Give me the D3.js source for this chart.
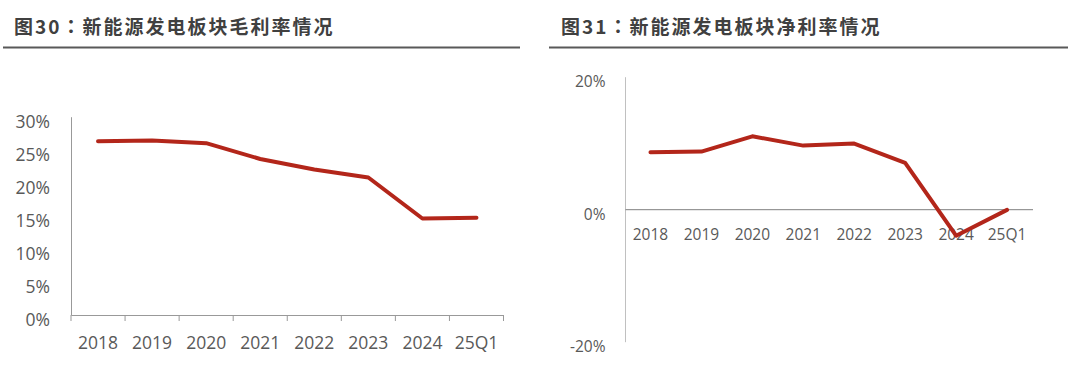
<!DOCTYPE html>
<html>
<head>
<meta charset="utf-8">
<script src="https://cdn.jsdelivr.net/npm/d3@7"></script>
<style>
  html, body { margin: 0; padding: 0; background: #fff; }
  svg { display: block; }
  .title { font-family: "Noto Sans CJK SC", sans-serif; font-weight: 700; font-size: 19px; letter-spacing: 2px; fill: #404040; }
  .tick text { font-family: "Open Sans", "Noto Sans", sans-serif; fill: #595959; }
  .left .tick text { font-size: 17.5px; }
  .right .tick text { font-size: 15.5px; }
</style>
</head>
<body>
<svg id="chart" width="1072" height="368"></svg>
<script>
// ── Data ────────────────────────────────────────────────────────────────
const categories   = ['2018', '2019', '2020', '2021', '2022', '2023', '2024', '25Q1'];
const grossMargin  = [26.3, 26.4, 26.0, 23.6, 22.0, 20.8, 14.6, 14.7];
const netMargin    = [8.6, 8.7, 11.0, 9.6, 9.9, 7.0, -4.0, -0.1];
const grossTicks   = [0, 5, 10, 15, 20, 25, 30];
const netTicks     = [-20, 0, 20];
const titleLeft    = ['图30', '：', '新能源发电板块毛利率情况'];
const titleRight   = ['图31', '：', '新能源发电板块净利率情况'];

const LINE_COLOR = '#B3261A';
const svg = d3.select('#chart');

// ── Titles ──────────────────────────────────────────────────────────────
function drawTitle(parts, x, x0, x1) {
  const t = svg.append('text').attr('class', 'title')
    .attr('x', x).attr('y', 34);
  t.selectAll('tspan').data(parts).join('tspan')
    // centred full-width colon, as in the source
    .style('font-family', (d, i) => i === 1 ? '"Noto Sans CJK TC", sans-serif' : null)
    .text(d => d);
  svg.append('line')
    .attr('x1', x0).attr('x2', x1).attr('y1', 47.5).attr('y2', 47.5)
    .attr('stroke', '#595959').attr('stroke-width', 2);
}
drawTitle(titleLeft, 14, 3, 520);
drawTitle(titleRight, 561, 549, 1068);

// ── Left: gross margin ──────────────────────────────────────────────────
{
  const x = d3.scaleBand().domain(categories).range([71, 503.5]);
  const y = d3.scaleLinear().domain([0, 30]).range([315, 116.7]);
  const g = svg.append('g').attr('class', 'left');

  const yAxis = g.append('g').attr('transform', 'translate(71,0)')
    .call(d3.axisLeft(y).tickValues(grossTicks).tickSize(0)
      .tickFormat(d => d + '%'));
  yAxis.select('.domain').attr('stroke', '#999');
  yAxis.selectAll('.tick text').attr('x', -21).attr('y', 5);

  const xAxis = g.append('g').attr('transform', 'translate(0,315)')
    .call(d3.axisBottom(x).tickSize(0).tickPadding(22));
  xAxis.select('.domain').attr('stroke', '#999');
  // boundary tick marks between categories
  xAxis.selectAll('line.sep')
    .data(categories.concat(['end']))
    .join('line').attr('class', 'sep')
    .attr('x1', (d, i) => i < categories.length ? x(d) : x.range()[1])
    .attr('x2', (d, i) => i < categories.length ? x(d) : x.range()[1])
    .attr('y1', 0).attr('y2', 6)
    .attr('stroke', '#999');

  g.append('path')
    .datum(grossMargin)
    .attr('fill', 'none')
    .attr('stroke', LINE_COLOR)
    .attr('stroke-width', 4)
    .attr('stroke-linejoin', 'round')
    .attr('stroke-linecap', 'round')
    .attr('d', d3.line()
      .x((d, i) => x(categories[i]) + x.bandwidth() / 2)
      .y(d => y(d)));
}

// ── Right: net margin ───────────────────────────────────────────────────
{
  const x = d3.scaleBand().domain(categories).range([625, 1032.5]);
  const y = d3.scaleLinear().domain([-20, 20]).range([341.7, 76.7]);
  const g = svg.append('g').attr('class', 'right');

  const yAxis = g.append('g').attr('transform', 'translate(625,0)')
    .call(d3.axisLeft(y).tickValues(netTicks).tickSize(0)
      .tickFormat(d => d + '%'));
  yAxis.select('.domain').attr('stroke', '#c0c0c0');
  yAxis.selectAll('.tick text').attr('x', -19.5).attr('y', 5);

  const xAxis = g.append('g').attr('transform', `translate(0,${y(0)})`)
    .call(d3.axisBottom(x).tickSize(0).tickPadding(20));
  xAxis.select('.domain').attr('stroke', '#7f7f7f');

  g.append('path')
    .datum(netMargin)
    .attr('fill', 'none')
    .attr('stroke', LINE_COLOR)
    .attr('stroke-width', 4)
    .attr('stroke-linejoin', 'round')
    .attr('stroke-linecap', 'round')
    .attr('d', d3.line()
      .x((d, i) => x(categories[i]) + x.bandwidth() / 2)
      .y(d => y(d)));
}
</script>
</body>
</html>
